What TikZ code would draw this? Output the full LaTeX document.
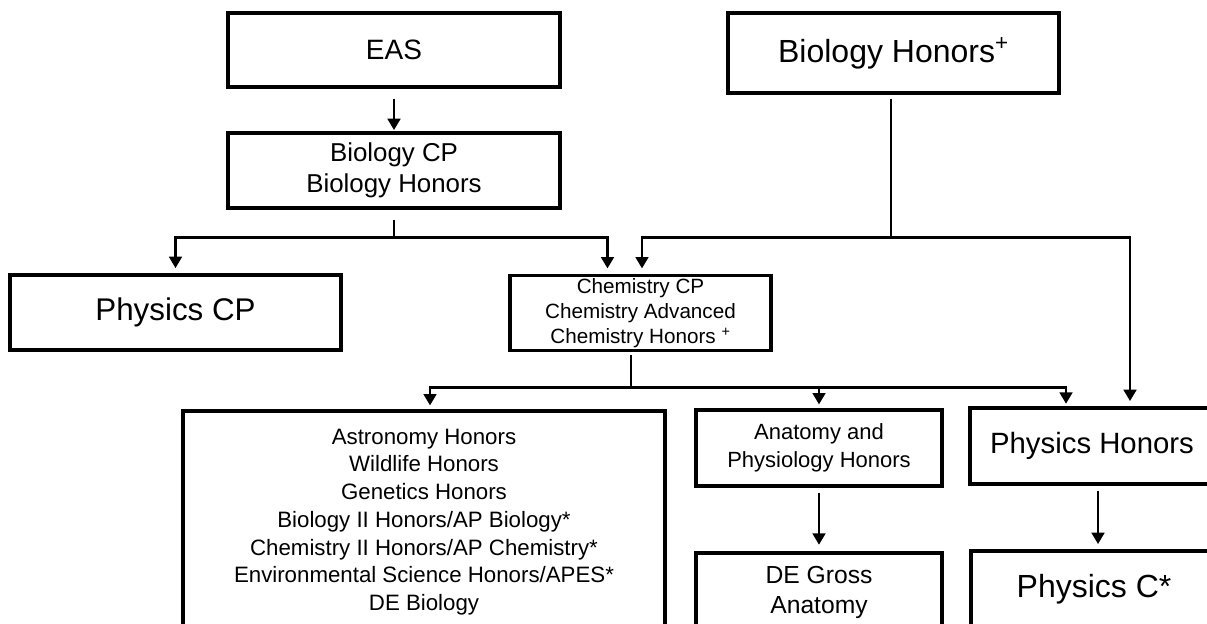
\documentclass[tikz,border=0pt]{standalone}
\usepackage{fontspec}
\setmainfont{Liberation Sans}
\usetikzlibrary{arrows.meta}
\usetikzlibrary{calc}

\begin{document}
\begin{tikzpicture}[x=0.75pt,y=-0.75pt]
    \tikzstyle{box}=[draw=black,line width=2.4pt,fill=white,align=center,inner sep=2pt]
    \tikzstyle{edge}=[draw=black,line width=1.9pt,-]
    \tikzstyle{arrow}=[edge,-{Triangle[length=8.5pt,width=9.5pt]}]

    \def\pu{0.75pt}

    \useasboundingbox (0,0) rectangle (1207,624);
    \clip (0,0) rectangle (1207,624);

    % first row
    \node[box,minimum width=332*\pu,minimum height=74*\pu,font=\fontsize{21}{25}\selectfont]   (eas)    at (394,50)    {EAS};
    \node[box,minimum width=331*\pu,minimum height=80*\pu,font=\fontsize{24}{28}\selectfont]   (bioH)   at (893.5,53)  {Biology Honors\textsuperscript{+}};
    \node[box,minimum width=332*\pu,minimum height=75*\pu,font=\fontsize{19.4}{23}\selectfont] (bioCP)  at (394,170.5) {Biology CP\\Biology Honors};

    % second row
    \node[box,minimum width=331*\pu,minimum height=75*\pu,font=\fontsize{23.5}{28}\selectfont] (physCP) at (175.5,312.5) {Physics CP};
    \node[box,minimum width=261*\pu,minimum height=75*\pu,font=\fontsize{15.5}{19}\selectfont] (chem)   at (640.5,313) {Chemistry CP\\Chemistry Advanced\\Chemistry Honors \textsuperscript{+}};

    % third row
    \node[box,minimum width=482*\pu,minimum height=222*\pu,font=\fontsize{16.7}{20.8}\selectfont] (adv) at (424,522)
        {Astronomy Honors\\Wildlife Honors\\Genetics Honors\\Biology II Honors/AP Biology*\\Chemistry II Honors/AP Chemistry*\\Environmental Science Honors/APES*\\DE Biology};
    \node[box,minimum width=246*\pu,minimum height=76*\pu,font=\fontsize{16.5}{21}\selectfont] (anat)  at (819,448)  {Anatomy and\\Physiology Honors};
    \node[box,minimum width=244*\pu,minimum height=76*\pu,font=\fontsize{22}{26}\selectfont]   (physH) at (1092,446) {Physics Honors};

    % fourth row
    \node[box,minimum width=246*\pu,minimum height=78*\pu,font=\fontsize{18.5}{22.5}\selectfont] (deg)   at (819,592)  {DE Gross\\Anatomy};
    \node[box,minimum width=246*\pu,minimum height=76*\pu,font=\fontsize{24}{28}\selectfont]     (physC) at (1094,589) {Physics C*};

    % junctions
    \coordinate (jbio)  at ($(bioCP.south)+(0,28)$);
    \coordinate (jbh)   at ($(bioH.south)+(-2.5,143)$);
    \coordinate (jchem) at ($(chem.south)+(-9.5,35)$);

    \path[arrow,shorten <=7.5pt,shorten >=1pt] (eas) -- (bioCP);

    \path[edge,shorten <=7.5pt] (bioCP.south) -- (jbio);
    \path[arrow,shorten >=4pt] (jbio) -| (physCP.north);
    \path[arrow,shorten >=4pt] (jbio) -| ($(chem.north)+(-33,0)$);

    \path[edge,shorten <=3pt] ($(bioH.south)+(-2.5,0)$) -- (jbh);
    \path[arrow,shorten >=4pt] (jbh) -| ($(chem.north)+(1.5,0)$);
    \path[arrow,shorten >=4pt] (jbh) -| ($(physH.north)+(38,0)$);

    \path[edge,shorten <=2pt] (chem.south -| jchem) -- (jchem);
    \path[arrow,shorten >=3pt] (jchem) -| ($(adv.north)+(6,0)$);
    \path[arrow,shorten >=3pt] (jchem) -| (anat.north);
    \path[arrow,shorten >=2pt] (jchem) -| ($(physH.north)+(-26,0)$);

    \path[arrow,shorten <=4pt,shorten >=5pt] (anat) -- (deg);
    \path[arrow,shorten <=4pt,shorten >=4pt] ($(physH.south)+(6,0)$) -- ($(physC.north)+(4,0)$);
\end{tikzpicture}
\end{document}
